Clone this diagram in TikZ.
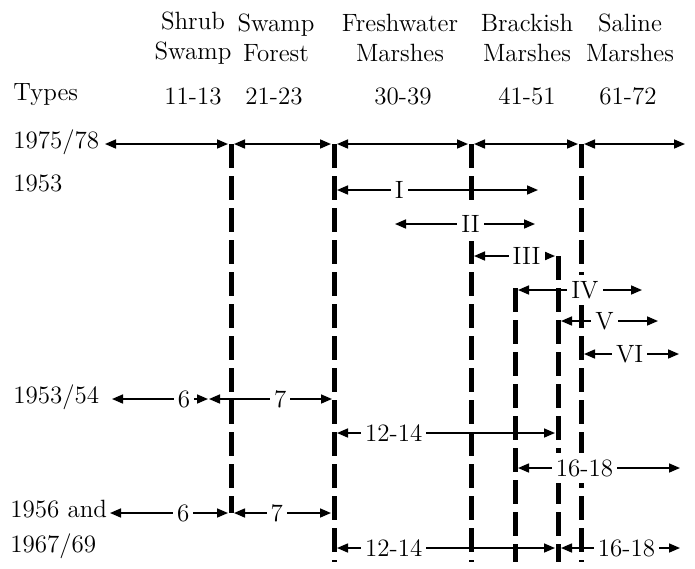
\documentclass[tikz,border=0pt]{standalone}
\usepackage{tikz}
\usetikzlibrary{arrows.meta}
\newcommand{\figfont}{\fontsize{12.5}{15}\selectfont}
\tikzset{
  hdr/.style  ={align=center, inner sep=0pt, font=\figfont},
  yr/.style   ={anchor=mid west, inner sep=0pt, font=\figfont},
  lab/.style  ={fill=white, inner xsep=2pt, inner ysep=3pt, font=\figfont},
  divl/.style ={line width=2.5pt, dash pattern=on 12pt off 4pt},
  ar/.style   ={{Triangle[length=5.5pt,width=4.5pt]}-{Triangle[length=5.5pt,width=4.5pt]},
                line width=0.8pt}
}

\begin{document}
\begin{tikzpicture}[x=0.5pt,y=-0.5pt]
\useasboundingbox (0,0) rectangle (695,568);

\node[hdr] (hshrub) at (193,38) {Shrub\\Swamp};
\node[hdr] (hforest) at (276,38) {Swamp\\Forest};
\node[hdr] (hfresh) at (400,38) {Freshwater\\Marshes};
\node[hdr] (hbrack) at (527,38) {Brackish\\Marshes};
\node[hdr] (hsal) at (630,38) {Saline\\Marshes};

\node[yr] (types) at (13,96) {Types};
\node[hdr] (t1) at (193,96) {11-13};
\node[hdr] (t2) at (274,96) {21-23};
\node[hdr] (t3) at (403,96) {30-39};
\node[hdr] (t4) at (527,96) {41-51};
\node[hdr] (t5) at (628,96) {61-72};

\node[yr] (y7578) at (13,144) {1975/78};
\node[yr] (y53) at (13,187) {1953};
\node[yr] (y5354) at (13,399) {1953/54};
\node[yr] (y56) at (10,513) {1956 and};
\node[yr] (y6769) at (10,548) {1967/69};

\coordinate (v1t) at (231,144); \coordinate (v1b) at (231,513);
\coordinate (v2t) at (334,144); \coordinate (v2b) at (334,562);
\coordinate (v3t) at (471,144); \coordinate (v3b) at (471,562);
\coordinate (v4t) at (515,288); \coordinate (v4b) at (515,562);
\coordinate (v5t) at (558,256); \coordinate (v5b) at (558,562);
\coordinate (v6t) at (581,144); \coordinate (v6b) at (581,562);

\draw[divl] (v1t) -- (v1b);
\draw[divl] (v2t) -- (v2b);
\draw[divl] (v3t) -- (v3b);
\draw[divl] (v4t) -- (v4b);
\draw[divl] (v5t) -- (v5b);
\draw[divl] (v6t) -- (v6b);

\coordinate (a0) at (105,144); \coordinate (a1) at (228,144);
\coordinate (a2) at (234,144); \coordinate (a3) at (331,144);
\coordinate (a4) at (337,144); \coordinate (a5) at (468,144);
\coordinate (a6) at (474,144); \coordinate (a7) at (578,144);
\coordinate (a8) at (584,144); \coordinate (a9) at (685,144);
\draw[ar] (a0) -- (a1);
\draw[ar] (a2) -- (a3);
\draw[ar] (a4) -- (a5);
\draw[ar] (a6) -- (a7);
\draw[ar] (a8) -- (a9);

\coordinate (b0) at (337,190); \coordinate (b1) at (538,190);
\coordinate (c0) at (395,224); \coordinate (c1) at (535,224);
\coordinate (d0) at (474,256); \coordinate (d1) at (555,256);
\coordinate (e0) at (518,290); \coordinate (e1) at (642,290);
\coordinate (f0) at (561,321); \coordinate (f1) at (658,321);
\coordinate (g0) at (584,354); \coordinate (g1) at (679,354);
\draw[ar] (b0) -- node[lab,pos=0.31]{I} (b1);
\draw[ar] (c0) -- node[lab,pos=0.54,inner ysep=4pt]{II} (c1);
\draw[ar] (d0) -- node[lab,pos=0.65]{III} (d1);
\draw[ar] (e0) -- node[lab,pos=0.54]{IV} (e1);
\draw[ar] (f0) -- node[lab,pos=0.45]{V} (f1);
\draw[ar] (g0) -- node[lab,pos=0.48]{VI} (g1);

\coordinate (h0) at (112,399); \coordinate (h1) at (208,399);
\coordinate (h2) at (209,399); \coordinate (h3) at (332,399);
\coordinate (k0) at (337,433); \coordinate (k1) at (555,433);
\coordinate (m0) at (518,468); \coordinate (m1) at (680,468);
\draw[ar] (h0) -- node[lab,pos=0.75]{6} (h1);
\draw[ar] (h2) -- node[lab,pos=0.58]{7} (h3);
\draw[ar] (k0) -- node[lab,pos=0.26]{12-14} (k1);
\draw[ar] (m0) -- node[lab,pos=0.41]{16-18} (m1);

\coordinate (n0) at (110,513); \coordinate (n1) at (228,513);
\coordinate (n2) at (234,513); \coordinate (n3) at (331,513);
\coordinate (p0) at (337,548); \coordinate (p1) at (555,548);
\coordinate (p2) at (561,548); \coordinate (p3) at (680,548);
\draw[ar] (n0) -- node[lab,pos=0.62]{6} (n1);
\draw[ar] (n2) -- node[lab,pos=0.44]{7} (n3);
\draw[ar] (p0) -- node[lab,pos=0.26]{12-14} (p1);
\draw[ar] (p2) -- node[lab,pos=0.55]{16-18} (p3);
\end{tikzpicture}
\end{document}
